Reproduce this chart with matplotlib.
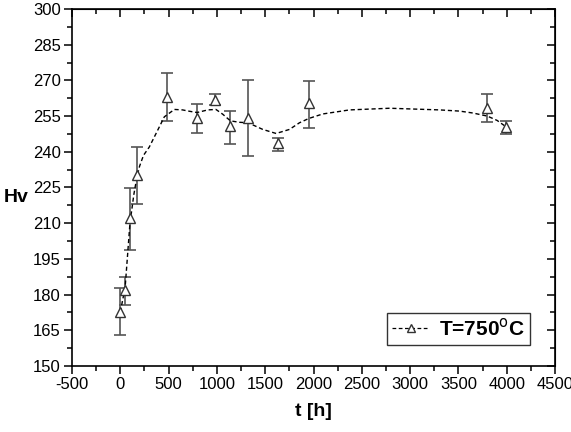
import numpy as np
import matplotlib
matplotlib.use('Agg')
import matplotlib.pyplot as plt
from matplotlib.ticker import MultipleLocator

plt.rcParams['font.family'] = ['Liberation Sans', 'DejaVu Sans']
plt.rcParams['axes.unicode_minus'] = False

# measured hardness
t = [0, 50, 100, 170, 480, 795, 980, 1140, 1323, 1634, 1951, 3800, 3990]
hv = [172.7, 182.0, 212.0, 230.3, 263.2, 254.3, 261.8, 250.8, 254.3, 243.6, 260.3, 258.2, 250.3]
err_lo = [163.0, 175.6, 198.7, 218.0, 253.0, 248.0, 259.7, 243.3, 238.2, 240.5, 249.9, 252.4, 247.4]
err_hi = [182.9, 187.5, 224.9, 242.0, 273.0, 260.0, 264.1, 257.0, 270.2, 245.9, 269.7, 264.2, 253.0]

# smoothed guide curve
curve_t = [0, 50, 100, 140, 170, 200, 240, 300, 380, 456, 560, 645, 720, 795, 905, 990,
           1060, 1140, 1233, 1323, 1475, 1613, 1751, 1855, 1951, 2096, 2373,
           2788, 3306, 3513, 3650, 3800, 3900, 3990]
curve_hv = [172.7, 183.0, 210.0, 222.0, 229.0, 234.0, 238.5, 242.0, 248.5, 254.7, 257.8, 257.6,
            257.0, 256.5, 257.6, 257.8, 255.8, 253.0, 252.4, 252.2, 249.4, 247.7,
            249.4, 252.2, 254.0, 255.9, 257.6, 258.3, 257.6, 257.1, 256.3, 255.0,
            253.2, 250.6]

fig = plt.figure(figsize=(5.71, 4.32), dpi=100)
ax = fig.add_axes([72 / 571, 1 - 366 / 432, (555 - 72) / 571, (366 - 9) / 432])

yerr = [np.array(hv) - np.array(err_lo), np.array(err_hi) - np.array(hv)]
ax.errorbar(t, hv, yerr=yerr, fmt='none', ecolor='#555555', elinewidth=1.2,
            capsize=4, capthick=1.2, zorder=2)
ax.plot(curve_t, curve_hv, color='black', ls=(0, (3, 2)), lw=1.0, zorder=3)
ax.plot(t, hv, ls='none', marker='^', ms=7, mfc='white', mec='#333333',
        mew=1.0, zorder=4)

# legend proxy
ax.plot([], [], color='black', ls=(0, (3, 2)), lw=0.9, marker='^', ms=6,
        mfc='white', mec='#333333', label='T=750$^{\\mathrm{o}}$C')
leg = ax.legend(loc='lower right', bbox_to_anchor=(0.948, 0.059), borderaxespad=0,
                frameon=True, fancybox=False, edgecolor='black', handlelength=1.8,
                handletextpad=0.45, borderpad=0.25,
                prop={'weight': 'bold', 'size': 15})
leg.get_frame().set_linewidth(1.0)

ax.set_xlim(-500, 4500)
ax.set_ylim(150, 300)
ax.xaxis.set_major_locator(MultipleLocator(500))
ax.xaxis.set_minor_locator(MultipleLocator(250))
ax.yaxis.set_major_locator(MultipleLocator(15))
ax.yaxis.set_minor_locator(MultipleLocator(7.5))
ax.tick_params(which='both', direction='out', labelsize=12, width=1.1, pad=2)
ax.tick_params(which='major', length=6)
ax.tick_params(which='minor', length=3.5)
for s in ax.spines.values():
    s.set_linewidth(1.2)

top = ax.secondary_xaxis('top')
top.xaxis.set_major_locator(MultipleLocator(500))
top.xaxis.set_minor_locator(MultipleLocator(250))
top.tick_params(which='both', direction='in', labeltop=False, width=1.1)
top.tick_params(which='major', length=6)
top.tick_params(which='minor', length=3.5)
right = ax.secondary_yaxis('right')
right.yaxis.set_major_locator(MultipleLocator(15))
right.yaxis.set_minor_locator(MultipleLocator(7.5))
right.tick_params(which='both', direction='in', labelright=False, width=1.1)
right.tick_params(which='major', length=6)
right.tick_params(which='minor', length=3.5)

ax.set_xlabel('t [h]', fontsize=14, fontweight='bold', labelpad=8)
fig.text(4 / 571, 1 - 197 / 432, 'Hv', fontsize=14, fontweight='bold',
         ha='left', va='center')

fig.savefig('out.png', dpi=100)
